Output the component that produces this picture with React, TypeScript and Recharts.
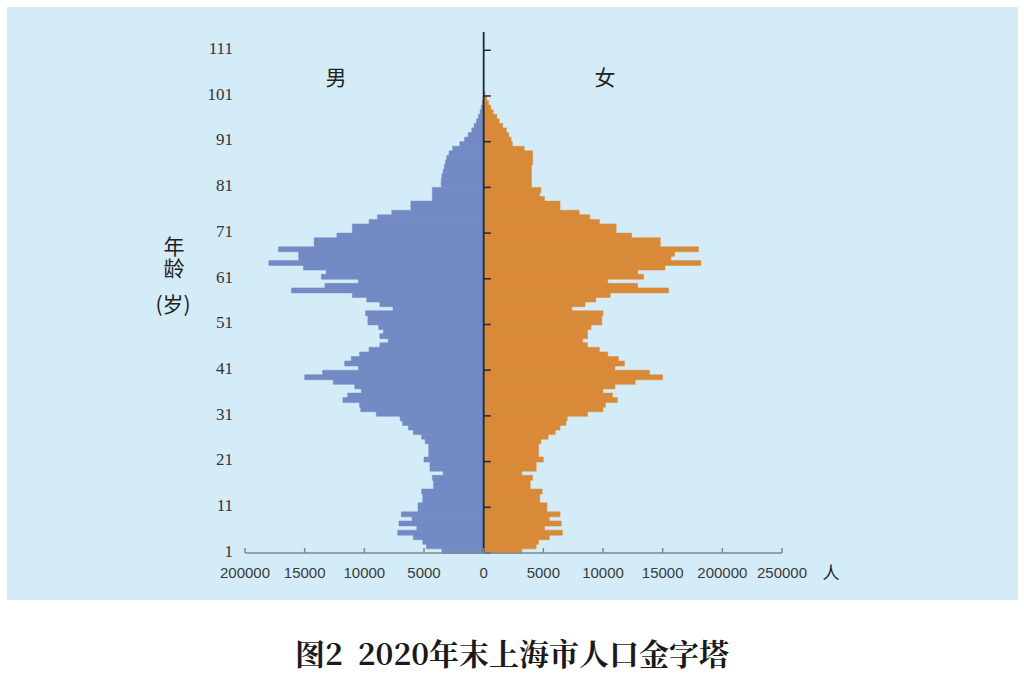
import { BarChart, Bar, XAxis, YAxis, ReferenceLine } from "recharts";

// ages drawn on the vertical axis (bottom = 1); 112-114 only leave headroom for the centre line
const ages = Array.from({ length: 114 }, (_, i) => i + 1);
const yTicks = [1, 11, 21, 31, 41, 51, 61, 71, 81, 91, 101, 111];

// persons per single year of age, age 1 .. 101
const male = [
  3500, 4800, 5100, 5900, 7200, 5600, 7100, 6000, 6900, 5500,
  5500, 5100, 5100, 5200, 4200, 4200, 4300, 3400, 4500, 4500,
  5000, 4600, 4600, 4600, 4900, 5200, 5900, 6300, 6800, 7000,
  9000, 10300, 10400, 11800, 11400, 10250, 10800, 12600, 15000, 13500,
  10500, 11650, 11100, 10400, 9600, 8700, 8000, 8700, 8400, 8800,
  9700, 9700, 9900, 7600, 8700, 9800, 11000, 16100, 13300, 10500,
  13600, 13200, 15100, 18000, 15500, 15500, 17200, 14200, 14200, 12300,
  11000, 11000, 9600, 8900, 7700, 6100, 6100, 4300, 4300, 4300,
  3550, 3550, 3500, 3400, 3300, 3200, 3100, 2900, 2600, 2000,
  1600, 1300, 1000, 800, 600, 450, 300, 200, 120, 60,
  20,
];
const female = [
  3200, 4400, 4600, 5500, 6600, 5100, 6500, 5500, 6400, 5300,
  5300, 4700, 4700, 4900, 3900, 3900, 4100, 3200, 4400, 4400,
  5000, 4600, 4600, 4600, 4800, 5400, 6000, 6400, 6900, 7000,
  8700, 10000, 10200, 11200, 10800, 10000, 11000, 12700, 15000, 13900,
  11000, 11800, 11300, 10400, 9700, 8700, 8300, 8700, 8700, 9000,
  9900, 9900, 10000, 7400, 8500, 9400, 10600, 15500, 12900, 10400,
  13400, 12900, 15200, 18200, 15700, 16000, 18000, 14800, 14800, 12400,
  11100, 11100, 9700, 8900, 8000, 6400, 6400, 5100, 4700, 4800,
  4000, 4000, 4000, 4000, 4000, 4100, 4100, 4100, 3400, 2400,
  2300, 2100, 1900, 1600, 1300, 1100, 800, 600, 400, 250,
  100,
];

const xTicks = [-20000, -15000, -10000, -5000, 0, 5000, 10000, 15000, 20000, 25000];
const xTickLabels = ["200000", "15000", "10000", "5000", "0", "5000", "10000", "15000", "200000", "250000"];

const MALE = "#738ac5";
const FEMALE = "#d98a39";
const PANEL = "#d4ebf8";

// top row first, so the youngest age sits on the x axis
const rows = ages
  .map((age, i) => ({ age, male: -(male[i] ?? 0), female: female[i] ?? 0 }))
  .reverse();

const XTick = ({ x, y, payload }: any) => {
  const label = xTickLabels[xTicks.indexOf(payload.value)];
  return (
    <g>
      <line x1={x} x2={x} y1={y - 5} y2={y} stroke="#7d8893" strokeWidth={1.5} />
      <text
        x={x}
        y={y + 25}
        textAnchor="middle"
        fill="#3a3a3a"
        fontSize={15}
        fontFamily="'Liberation Sans', Arial, sans-serif"
      >
        {label}
      </text>
    </g>
  );
};

const cjk = "'Noto Sans CJK SC', sans-serif";
const label = (left: number, top: number, w: number, size: number) =>
  ({
    position: "absolute",
    left,
    top,
    width: w,
    textAlign: "center",
    fontSize: size,
    lineHeight: `${size}px`,
    color: "#222",
    fontFamily: cjk,
  }) as const;

export default function App() {
  return (
    <div style={{ position: "absolute", left: 0, top: 0, width: 1024, height: 673, background: "#fff" }}>
      <div style={{ position: "absolute", left: 7, top: 7, width: 1011, height: 593, background: PANEL }} />
      <div style={{ position: "absolute", left: 0, top: 0 }}>
        <BarChart
          width={1024}
          height={600}
          data={rows}
          layout="vertical"
          stackOffset="sign"
          barCategoryGap={0}
          margin={{ top: 32, right: 242, bottom: 17, left: 195 }}
        >
          <XAxis
            type="number"
            domain={[-20000, 25000]}
            ticks={xTicks}
            interval={0}
            height={30}
            tickLine={false}
            tickSize={0}
            tickMargin={0}
            axisLine={{ stroke: "#7d8893", strokeWidth: 1.5 }}
            tick={<XTick />}
          />
          <YAxis
            type="category"
            dataKey="age"
            ticks={yTicks}
            width={50}
            axisLine={false}
            tickLine={false}
            tickSize={0}
            tickMargin={12}
            tick={{ fill: "#333", fontSize: 17, fontFamily: "'Liberation Serif', serif" }}
          />
          <Bar dataKey="male" stackId="p" fill={MALE} stroke={MALE} strokeWidth={0.5} isAnimationActive={false} />
          <Bar dataKey="female" stackId="p" fill={FEMALE} stroke={FEMALE} strokeWidth={0.5} isAnimationActive={false} />
          <ReferenceLine x={0} stroke="#1e2a36" strokeWidth={1.8} />
          {yTicks.map((t) => (
            <ReferenceLine
              key={t}
              segment={[{ x: 0, y: t }, { x: 600, y: t }]}
              position="end"
              stroke="#1e2a36"
              strokeWidth={1.5}
            />
          ))}
        </BarChart>
      </div>
      <div style={label(316, 66, 40, 21)}>男</div>
      <div style={label(585, 66, 40, 21)}>女</div>
      <div
        style={{
          position: "absolute",
          left: 163,
          top: 236,
          width: 21,
          fontSize: 21,
          lineHeight: "21px",
          letterSpacing: 1,
          writingMode: "vertical-rl",
          color: "#222",
          fontFamily: cjk,
        }}
      >
        年龄
      </div>
      <div style={label(148, 293, 50, 21)}>(岁)</div>
      <div style={label(819, 563, 24, 17)}>人</div>
      <div
        style={{
          position: "absolute",
          left: 0,
          top: 632,
          width: 1024,
          textAlign: "center",
          fontSize: 30,
          lineHeight: "40px",
          fontWeight: 700,
          color: "#1a1a1a",
          fontFamily: "'Noto Serif CJK SC', 'Noto Sans CJK SC', serif",
        }}
      >
        图2&nbsp;&nbsp;2020年末上海市人口金字塔
      </div>
    </div>
  );
}
